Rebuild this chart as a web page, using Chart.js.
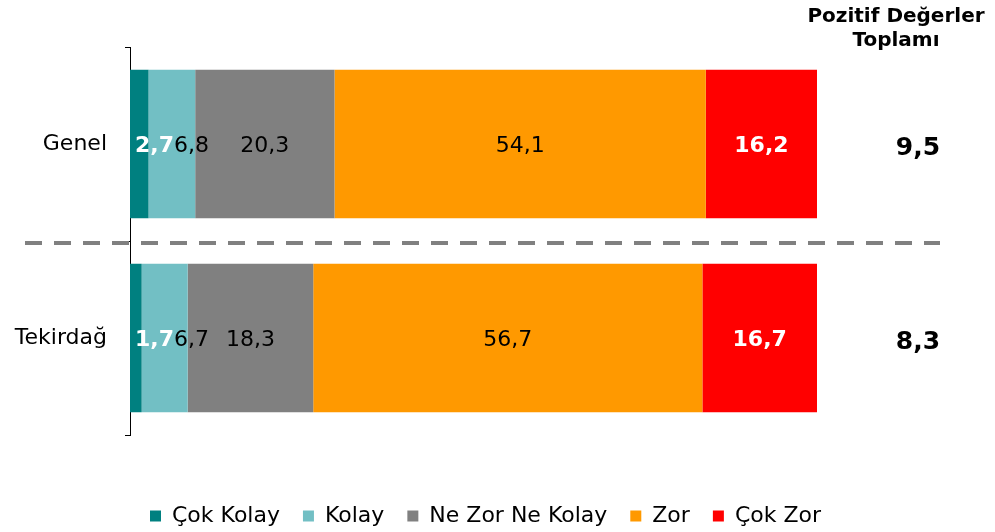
<!DOCTYPE html>
<html>
<head>
<meta charset="utf-8">
<script src="https://cdn.jsdelivr.net/npm/chart.js@4.4.0/dist/chart.umd.min.js"></script>
<style>
html, body { margin: 0; padding: 0; background: #fff; }
#wrap { width: 995px; height: 532px; }
</style>
</head>
<body>
<div id="wrap"><canvas id="barChart"></canvas></div>
<script>
var categories = ['Genel', 'Tekirdağ'];
var seriesNames = ['Çok Kolay', 'Kolay', 'Ne Zor Ne Kolay', 'Zor', 'Çok Zor'];
var cokKolay = [2.7, 1.7];
var kolay = [6.8, 6.7];
var neZorNeKolay = [20.3, 18.3];
var zor = [54.1, 56.7];
var cokZor = [16.2, 16.7];
var pozitifToplam = [9.5, 8.3];
var toplamBaslik = ['Pozitif Değerler', 'Toplamı'];

Chart.defaults.font.family = 'DejaVu Sans';
Chart.defaults.color = '#000';

function fmt(v) {
    return v.toFixed(1).replace('.', ',');
}

// value labels inside the bars
var barLabels = {
    id: 'barLabels',
    afterDatasetsDraw: function(chart) {
        var ctx = chart.ctx;
        var prevRight = [];
        ctx.save();
        ctx.textBaseline = 'middle';
        ctx.textAlign = 'left';
        chart.data.datasets.forEach(function(ds, i) {
            var meta = chart.getDatasetMeta(i);
            ctx.font = (ds.labelBold ? 'bold ' : '') + '22px "DejaVu Sans"';
            ctx.fillStyle = ds.labelColor;
            meta.data.forEach(function(bar, j) {
                var text = fmt(ds.data[j]);
                var w = ctx.measureText(text).width;
                var left = (bar.x + bar.base) / 2 - w / 2;
                var minLeft = Math.max(chart.chartArea.left + 5, prevRight[j] || 0);
                if (left < minLeft) left = minLeft;
                ctx.fillText(text, left, bar.y + 2);
                prevRight[j] = left + w;
            });
        });
        ctx.restore();
    }
};

// dashed separator, header and totals on the right
var extras = {
    id: 'extras',
    afterDraw: function(chart) {
        var ctx = chart.ctx;
        var y = chart.scales.y;
        var area = chart.chartArea;
        ctx.save();
        var sepY = (y.getPixelForValue(0) + y.getPixelForValue(1)) / 2 + 2;
        ctx.strokeStyle = '#808080';
        ctx.lineWidth = 4;
        ctx.setLineDash([17, 12]);
        ctx.beginPath();
        ctx.moveTo(25, sepY);
        ctx.lineTo(940, sepY);
        ctx.stroke();
        ctx.setLineDash([]);

        ctx.fillStyle = '#000';
        ctx.textAlign = 'center';
        ctx.textBaseline = 'middle';
        ctx.font = 'bold 20px "DejaVu Sans"';
        ctx.fillText(toplamBaslik[0], 896, 17);
        ctx.fillText(toplamBaslik[1], 896, 41);

        ctx.font = 'bold 25px "DejaVu Sans"';
        pozitifToplam.forEach(function(v, i) {
            ctx.fillText(fmt(v), area.right + 101, y.getPixelForValue(i) + 4);
        });
        ctx.restore();
    }
};

var barCtx = document.getElementById('barChart').getContext('2d');
var barChart = new Chart(barCtx, {
    type: 'bar',
    data: {
        labels: categories,
        datasets: [{
            label: seriesNames[0],
            data: cokKolay,
            backgroundColor: '#008080',
            labelColor: '#fff',
            labelBold: true
        }, {
            label: seriesNames[1],
            data: kolay,
            backgroundColor: '#72BFC4',
            labelColor: '#000'
        }, {
            label: seriesNames[2],
            data: neZorNeKolay,
            backgroundColor: '#808080',
            labelColor: '#000'
        }, {
            label: seriesNames[3],
            data: zor,
            backgroundColor: '#FF9900',
            labelColor: '#000'
        }, {
            label: seriesNames[4],
            data: cokZor,
            backgroundColor: '#FF0000',
            labelColor: '#fff',
            labelBold: true
        }]
    },
    options: {
        indexAxis: 'y',
        responsive: true,
        maintainAspectRatio: false,
        animation: false,
        datasets: {
            bar: {
                categoryPercentage: 1,
                barPercentage: 0.765,
                borderWidth: 0
            }
        },
        layout: {
            padding: { top: 47, right: 24, bottom: -5, left: 0 }
        },
        scales: {
            x: {
                stacked: true,
                min: 0,
                max: 100.1,
                grid: { display: false },
                border: { display: false },
                ticks: { display: false },
                afterFit: function(s) { s.height = 47; }
            },
            y: {
                stacked: true,
                offset: true,
                grid: {
                    display: true,
                    drawOnChartArea: false,
                    drawTicks: true,
                    tickLength: 5,
                    color: '#000',
                    offset: true
                },
                border: { display: true, color: '#000', width: 1 },
                ticks: { color: '#000', font: { size: 22 }, padding: 18 },
                afterFit: function(s) { s.width = 130; }
            },
            yRight: {
                type: 'category',
                labels: categories,
                position: 'right',
                grid: { display: false },
                border: { display: false },
                ticks: { display: false },
                afterFit: function(s) { s.width = 154; }
            }
        },
        plugins: {
            legend: {
                position: 'bottom',
                labels: {
                    boxWidth: 11,
                    boxHeight: 11,
                    padding: 23,
                    color: '#000',
                    font: { size: 22 }
                }
            },
            tooltip: { enabled: false }
        }
    },
    plugins: [barLabels, extras]
});
</script>
</body>
</html>
